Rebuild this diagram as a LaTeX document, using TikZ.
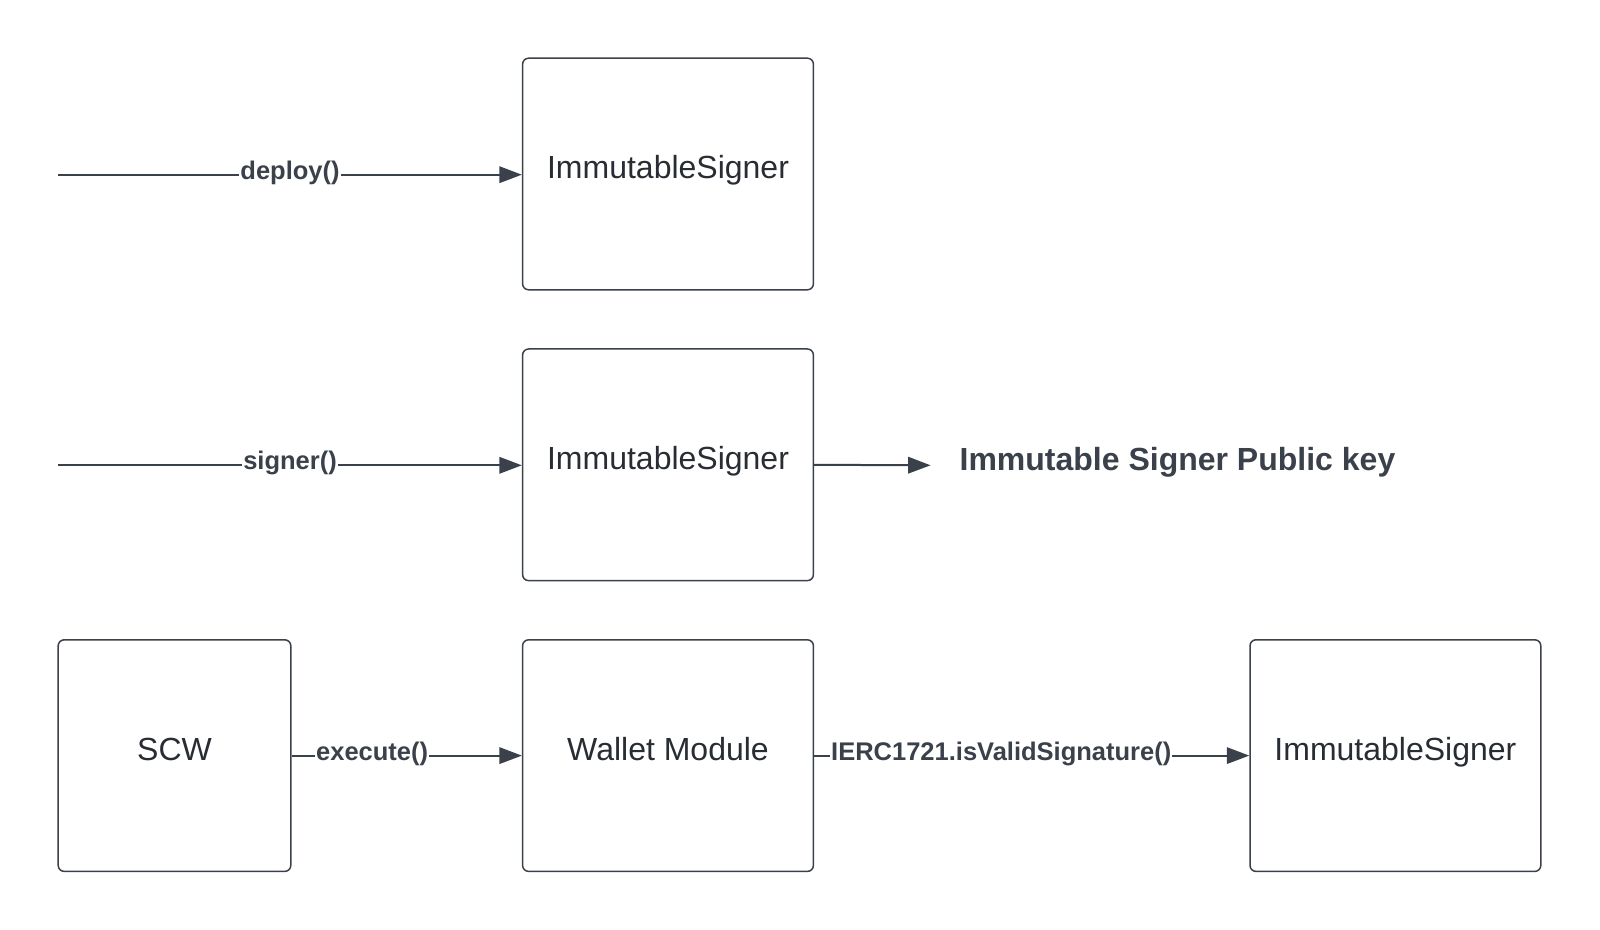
\documentclass[tikz,border=0pt]{standalone}
\usepackage{fontspec}
\setmainfont{Liberation Sans}
\usetikzlibrary{arrows.meta}
\definecolor{lineg}{HTML}{3A414A}
\definecolor{textg}{HTML}{282C33}

\begin{document}
\begin{tikzpicture}[x=0.5pt,y=-0.5pt,
  box/.style={draw=lineg,line width=0.75pt,rounded corners=3pt,
    minimum width=145.4pt,minimum height=115.8pt,text=textg,
    font=\fontsize{16}{19}\selectfont,text height=0.75em,text depth=0.25em},
  call/.style={draw=lineg,line width=1pt,-{Triangle[length=11.2pt,width=8.2pt]}},
  lbl/.style={fill=white,inner sep=0.5pt,text=lineg,
    font=\bfseries\fontsize{12.75}{15}\selectfont,yshift=1pt}]

  \useasboundingbox (0,0) rectangle (1600,930);

  \node[box] (SIG1) at (668,174) {ImmutableSigner};
  \node[box] (SIG2) at (668,464.8) {ImmutableSigner};
  \node[box,minimum width=116.3pt] (SCW) at (174.5,755.6) {SCW};
  \node[box] (WALL) at (668,755.6) {Wallet Module};
  \node[box] (SIG3) at (1395.4,755.6) {ImmutableSigner};

  \coordinate (IN1) at (58.2,174.7);
  \coordinate (IN2) at (58.2,465.3);
  \node (PUBK) at (930.6,465.3) [anchor=west,inner xsep=14.3pt,text=lineg,
    font=\bfseries\fontsize{16}{19}\selectfont,text height=0.75em,text depth=0.25em]
    {Immutable Signer Public key};

  \draw[call] (IN1) -- node[lbl] {deploy()} (IN1 -| SIG1.west);
  \draw[call] (IN2) -- node[lbl] {signer()} (IN2 -| SIG2.west);
  \draw[call] (SIG2.east) -- (PUBK.west);

  \draw[call] (SCW) -- node[lbl,pos=0.35] {execute()} (WALL);
  \draw[call] (WALL) -- node[lbl,pos=0.43] {IERC1721.isValidSignature()} (SIG3);

\end{tikzpicture}
\end{document}
